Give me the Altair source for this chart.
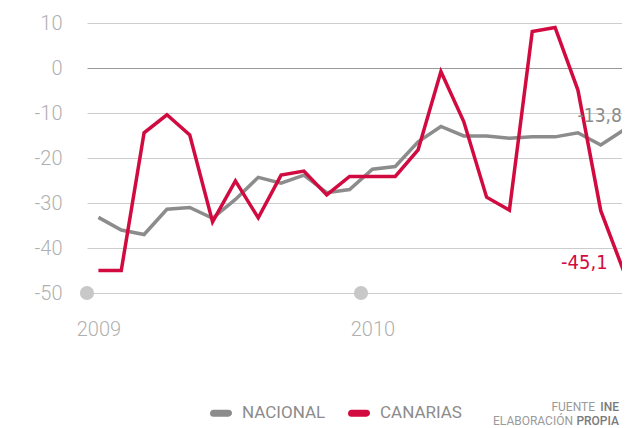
import altair as alt
import pandas as pd

years = ["2009", "2010"]
month_pos = [i + 0.5 for i in range(24)]  # centre of each month, Jan 2009 .. Dec 2010
nacional = [-33.2, -36.0, -37.0, -31.4, -31.0, -33.4, -29.2, -24.3, -25.6, -23.8, -27.7, -27.0,
            -22.5, -21.9, -16.4, -13.0, -15.1, -15.1, -15.6, -15.3, -15.3, -14.4, -17.1, -13.8]
canarias = [-45.0, -45.0, -14.4, -10.4, -14.9, -34.2, -25.1, -33.3, -23.8, -22.9, -28.2, -24.1,
            -24.1, -24.1, -18.2, -0.8, -11.9, -28.7, -31.6, 8.1, 9.0, -4.9, -31.7, -45.1]
series = ["NACIONAL", "CANARIAS"]
colors = ["#8c8c8c", "#d10a40"]
end_labels = ["-13,8", "-45,1"]
y_ticks = [10, 0, -10, -20, -30, -40, -50]
year_starts = [0, 12, 24]

rows = []
for name, vals in zip(series, [nacional, canarias]):
    for t, v in zip(month_pos, vals):
        rows.append({"t": t, "v": v, "serie": name})
df = pd.DataFrame(rows)

df_end = pd.DataFrame({
    "t": [month_pos[-1], month_pos[-1]],
    "v": [nacional[-1], canarias[-1]],
    "serie": series,
    "label": end_labels,
})
df_dots = pd.DataFrame({"t": year_starts})

AXFONT = "Roboto"
xscale = alt.Scale(domain=[0, 24], range=[1, 549], nice=False, zero=False)
yscale = alt.Scale(domain=[-50, 10], nice=False, zero=False)

year_expr = "[" + ",".join("'" + y + "'" for y in years) + "][floor(datum.value/12)]"

capsule = ("M-0.75,-0.175L0.75,-0.175A0.175,0.175,0,0,1,0.75,0.175"
           "L-0.75,0.175A0.175,0.175,0,0,1,-0.75,-0.175Z")

lines = alt.Chart(df).mark_line(strokeWidth=3.5, strokeJoin="miter").encode(
    x=alt.X("t:Q", scale=xscale,
            axis=alt.Axis(values=[0.5, 12.5], labelExpr=year_expr, grid=False, ticks=False,
                          domain=False, labelPadding=26, labelFont=AXFONT, labelFontSize=20,
                          labelFontWeight=300, labelColor="#b0b0b0", title=None)),
    y=alt.Y("v:Q", scale=yscale,
            axis=alt.Axis(values=y_ticks, labelExpr="'' + datum.value", ticks=False, domain=False,
                          labelPadding=24, labelFont=AXFONT, labelFontSize=20, labelFontWeight=300,
                          labelColor="#b0b0b0", title=None, gridWidth=1.2,
                          gridColor={"condition": {"test": "datum.value === 0", "value": "#9a9a9a"},
                                     "value": "#cdcdcd"})),
    color=alt.Color("serie:N", scale=alt.Scale(domain=series, range=colors),
                    legend=alt.Legend(title=None, orient="none", legendX=123, legendY=378,
                                      direction="horizontal", symbolType=capsule, symbolSize=400,
                                      symbolStrokeWidth=3.5, labelFont=AXFONT, labelFontSize=17,
                                      labelColor="#8c8c8c", columnPadding=16, labelOffset=9,
                                      padding=0)),
)

dots = alt.Chart(df_dots).mark_point(filled=True, size=200, color="#c8c8c8", opacity=1).encode(
    x=alt.X("t:Q", scale=xscale), y=alt.datum(-50))

lab_font = "Liberation Sans Narrow, DejaVu Sans Condensed, sans-serif"
lab_nac = alt.Chart(df_end).transform_filter(alt.datum.serie == "NACIONAL").mark_text(
    align="left", baseline="middle", dx=-46, dy=-14, font=lab_font, fontSize=19, color="#8c8c8c"
).encode(x=alt.X("t:Q", scale=xscale), y=alt.Y("v:Q", scale=yscale), text="label:N")
lab_can = alt.Chart(df_end).transform_filter(alt.datum.serie == "CANARIAS").mark_text(
    align="right", baseline="middle", dx=-16, dy=-8, font=lab_font, fontSize=20, color="#d10a40"
).encode(x=alt.X("t:Q", scale=xscale), y=alt.Y("v:Q", scale=yscale), text="label:N")


def src(txt, xpos, ypos, color, weight):
    return alt.Chart(pd.DataFrame({"s": [txt]})).mark_text(
        align="right", baseline="middle", font=AXFONT, fontSize=12, color=color,
        fontWeight=weight).encode(x=alt.value(xpos), y=alt.value(ypos), text="s:N")


source = (src("FUENTE", 509, 384, "#9a9a9a", 400) + src("INE", 533, 384, "#7a7a7a", 500)
          + src("ELABORACIÓN", 487, 398, "#9a9a9a", 400) + src("PROPIA", 533, 398, "#7a7a7a", 500))

chart = alt.layer(lines, dots, lab_nac, lab_can, source).properties(
    width=536, height=270,
    autosize=alt.AutoSizeParams(type="none"),
    padding={"left": 78, "top": 15, "right": 0, "bottom": 135},
    background="white",
).configure_view(stroke=None)

chart.save("out.html", embed_options={"renderer": "svg", "actions": False})
